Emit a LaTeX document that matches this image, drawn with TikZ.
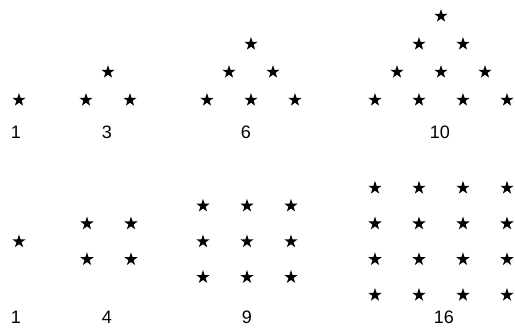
\documentclass[tikz,border=0pt]{standalone}
\usepackage{fontspec}
\setmainfont{Liberation Sans}
\usetikzlibrary{shapes.geometric}
\begin{document}
\begin{tikzpicture}[x=1pt, y=-1pt,
    dot/.style={star, star points=5, star point ratio=2.6, fill=black, inner sep=0pt, minimum size=14pt},
    count/.style={font=\fontsize{18}{21}\selectfont, inner sep=0pt}]
    \useasboundingbox (0,0) rectangle (515,331);
    % triangular numbers
    \foreach \n/\x/\lbl/\lx in {1/19/1/16, 2/86/3/107, 3/207/6/246, 4/375/10/440} {
        \pgfmathtruncatemacro\rows{\n-1}
        \foreach \k in {0,...,\rows} {
            \pgfmathtruncatemacro\last{\n-\k-1}
            \foreach \c in {0,...,\last}
                \node[dot] (t\n-\k-\c) at (\x+22*\k+44*\c, 100-28*\k) {};
        }
        \node[count] (tri\n) at (\lx,132) {\lbl};
    }
    % square numbers
    \foreach \n/\x/\lbl/\lx in {1/19/1/16, 2/87/4/107, 3/203/9/247, 4/375/16/444} {
        \pgfmathtruncatemacro\rows{\n-1}
        \foreach \r in {0,...,\rows}
            \foreach \c in {0,...,\rows}
                \node[dot] (s\n-\r-\c) at (\x+44*\c, 241.5+35.7*\r-17.85*\rows) {};
        \node[count] (sq\n) at (\lx,317) {\lbl};
    }
\end{tikzpicture}
\end{document}
